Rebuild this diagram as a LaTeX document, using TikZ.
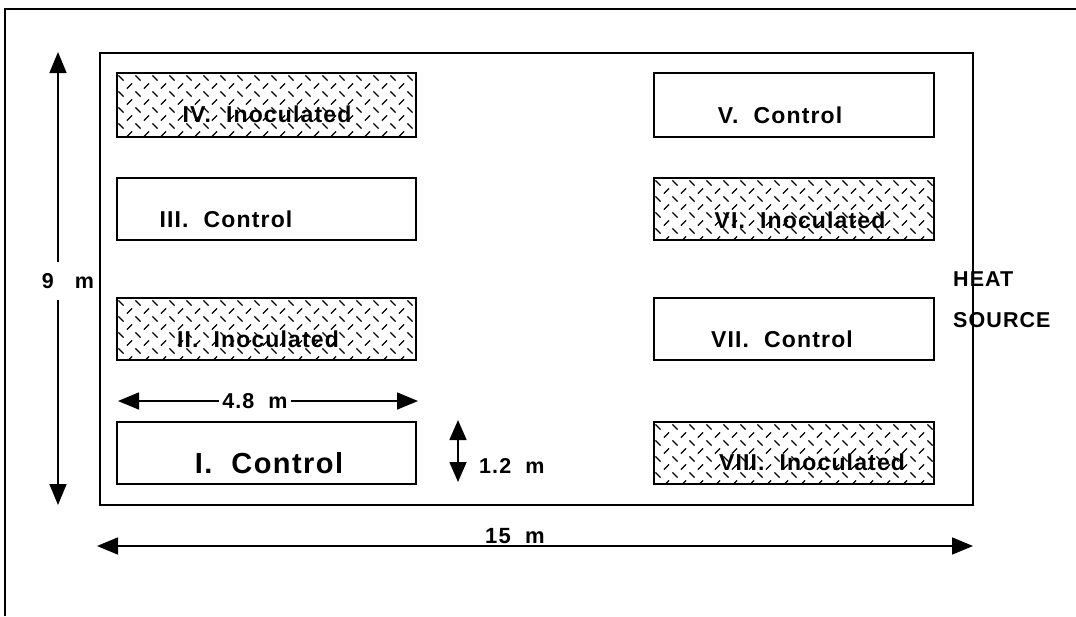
\documentclass[tikz,border=0pt]{standalone}
\usepackage{fontspec}
\setmainfont{Liberation Sans}[LetterSpace=5]
\usetikzlibrary{arrows.meta}
\newcommand\hatchrect[4]{%
  \begin{scope}
    \clip (#1,#2) rectangle (#3,#4);
    \foreach \j in {0,...,7}{
      \foreach \i in {0,...,18}{
        \pgfmathsetmacro\hx{#1+4+17*\i+8.5*mod(\j,2)}
        \pgfmathsetmacro\hy{#2+5+8*\j}
        \ifodd\j
          \draw[hatchline] (\hx-2.6,\hy+2.6) -- (\hx+2.6,\hy-2.6);
        \else
          \draw[hatchline] (\hx-2.6,\hy-2.6) -- (\hx+2.6,\hy+2.6);
        \fi
      }}
  \end{scope}}
\begin{document}
\begin{tikzpicture}[x=1pt,y=-1pt,
  plotbox/.style={draw, line width=2.2pt},
  frameline/.style={draw, line width=2pt},
  dimarrow/.style={line width=1.6pt, -{Triangle[length=21pt,width=17pt]}},
  plotlbl/.style={font=\fontsize{23}{27}\selectfont\bfseries, anchor=base, inner sep=0pt},
  biglbl/.style={font=\fontsize{29}{33}\selectfont\bfseries, anchor=base, inner sep=0pt},
  dimlbl/.style={font=\fontsize{21.5}{25}\selectfont\bfseries, inner sep=0pt},
  hatchline/.style={line width=1.2pt}]
\useasboundingbox (0,0) rectangle (1076,616);
% outer frame
\draw[frameline] (5,616) -- (5,9) -- (1076,9);
% field
\draw[plotbox] (100,53) rectangle (973,505);
% hatched plots
\hatchrect{117}{73}{416}{137}
\hatchrect{117}{298}{416}{360}
\hatchrect{654}{178}{934}{240}
\hatchrect{654}{422}{934}{484}
% plots
\draw[plotbox] (117,73) rectangle (416,137);
\draw[plotbox] (117,178) rectangle (416,240);
\draw[plotbox] (117,298) rectangle (416,360);
\draw[plotbox] (117,422) rectangle (416,484);
\draw[plotbox] (654,73) rectangle (934,137);
\draw[plotbox] (654,178) rectangle (934,240);
\draw[plotbox] (654,298) rectangle (934,360);
\draw[plotbox] (654,422) rectangle (934,484);
% labels
\node[plotlbl] (p4) at (267,122) {IV.\ \ Inoculated};
\node[plotlbl] (p3) at (226,227) {III.\ \ Control};
\node[plotlbl] (p2) at (258,347) {II.\ \ Inoculated};
\node[biglbl] (p1) at (269,473) {I.\ \ Control};
\node[plotlbl] (p5) at (780,123) {V.\ \ Control};
\node[plotlbl] (p6) at (800,228) {VI.\ \ Inoculated};
\node[plotlbl] (p7) at (782,347) {VII.\ \ Control};
\node[plotlbl] (p8) at (812,470) {VIII.\ \ Inoculated};
% 9 m
\node[dimlbl, minimum height=37pt] (n9) at (68,281) {9\ \ \ m};
\coordinate (t9) at (58,52);
\coordinate (b9) at (58,505);
\draw[dimarrow] (n9.north -| t9) -- (t9);
\draw[dimarrow] (n9.south -| b9) -- (b9);
% 4.8 m
\node[dimlbl, inner xsep=3pt] (n48) at (255,401) {4.8\ \ m};
\coordinate (l48) at (118,401);
\coordinate (r48) at (418,401);
\draw[dimarrow] (n48.west) -- (l48);
\draw[dimarrow] (n48.east) -- (r48);
% 1.2 m
\coordinate (t12) at (458,420);
\coordinate (b12) at (458,482);
\draw[dimarrow, {Triangle[length=20pt,width=17pt]}-{Triangle[length=20pt,width=17pt]}] (t12) -- (b12);
\node[dimlbl, anchor=west] (n12) at (479,466) {1.2\ \ m};
% 15 m
\coordinate (l15) at (97,546);
\coordinate (r15) at (973,546);
\draw[dimarrow, {Triangle[length=21pt,width=17pt]}-{Triangle[length=21pt,width=17pt]}] (l15) -- (r15);
\node[dimlbl, anchor=south, font=\fontsize{22}{26}\selectfont\bfseries] (n15) at (515,544) {15\ \ m};
% heat source
\node[dimlbl, anchor=west] (h1) at (953,279) {HEAT};
\node[dimlbl, anchor=west] (h2) at (953,320) {SOURCE};
\end{tikzpicture}
\end{document}
